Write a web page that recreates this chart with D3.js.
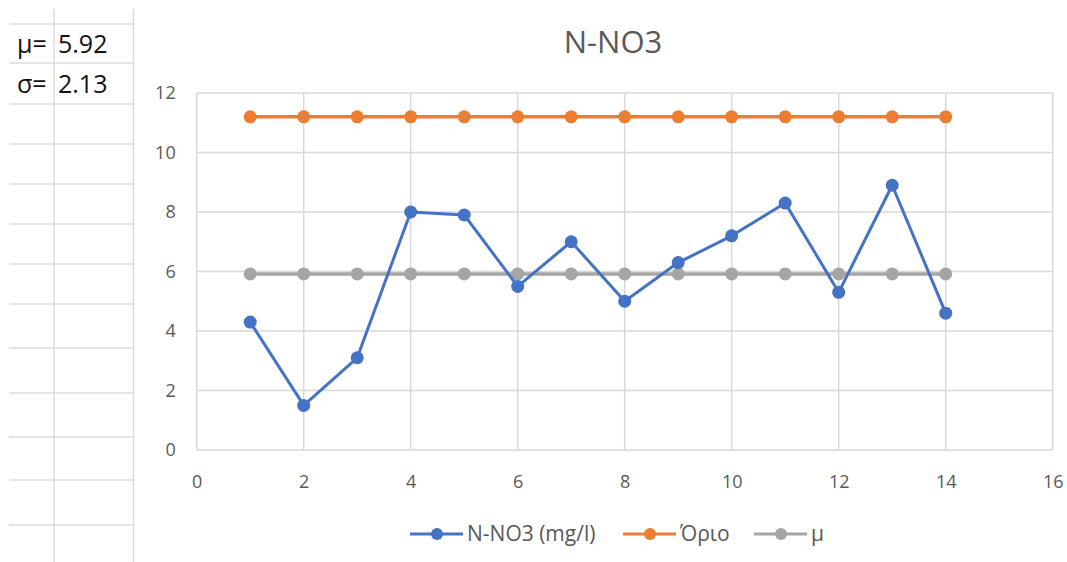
<!DOCTYPE html>
<html>
<head>
<meta charset="utf-8">
<script src="https://cdn.jsdelivr.net/npm/d3@7"></script>
<style>
  html, body { margin: 0; padding: 0; background: #fff; }
  svg { display: block; font-family: "Open Sans", "Noto Sans", sans-serif; }
</style>
</head>
<body>
<svg id="chart" width="1067" height="562"></svg>
<script>
// Sample numbers (x axis) and measured nitrate-nitrogen concentrations
const samples = [1, 2, 3, 4, 5, 6, 7, 8, 9, 10, 11, 12, 13, 14];
const nno3 = [4.3, 1.5, 3.1, 8.0, 7.9, 5.5, 7.0, 5.0, 6.3, 7.2, 8.3, 5.3, 8.9, 4.6];
// Regulatory limit and series mean, repeated for every sample
const limit = [11.2, 11.2, 11.2, 11.2, 11.2, 11.2, 11.2, 11.2, 11.2, 11.2, 11.2, 11.2, 11.2, 11.2];
const mean = [5.92, 5.92, 5.92, 5.92, 5.92, 5.92, 5.92, 5.92, 5.92, 5.92, 5.92, 5.92, 5.92, 5.92];
// Summary statistics shown in the worksheet cells
const statLabels = ["μ=", "σ="];
const statValues = ["5.92", "2.13"];
// Axis ticks
const xTicks = [0, 2, 4, 6, 8, 10, 12, 14, 16];
const yTicks = [0, 2, 4, 6, 8, 10, 12];
const seriesNames = ["N-NO3 (mg/l)", "Όριο", "μ"];
const seriesColors = ["#4472C4", "#ED7D31", "#A5A5A5"];

const svg = d3.select("#chart");

// ---- worksheet cells to the left of the chart ----
const sheet = svg.append("g");
const rowLines = [24, 63, 104, 144, 184, 224, 264, 304, 348, 393, 437, 480, 525];
const cellBaselines = [53, 93];
const sheetGrid = "#DCDCDC";
sheet.selectAll("line.row").data(rowLines).join("line")
  .attr("x1", 9).attr("x2", 133).attr("y1", d => d).attr("y2", d => d)
  .attr("stroke", sheetGrid).attr("stroke-width", 1.5);
[54, 133.5].forEach(xp => sheet.append("line")
  .attr("x1", xp).attr("x2", xp).attr("y1", 9).attr("y2", 562)
  .attr("stroke", sheetGrid).attr("stroke-width", 1.5));
sheet.selectAll("text.lab").data(statLabels).join("text")
  .attr("x", 17).attr("y", (d, i) => cellBaselines[i])
  .attr("font-size", 25).attr("fill", "#111").text(d => d);
sheet.selectAll("text.val").data(statValues).join("text")
  .attr("x", 58).attr("y", (d, i) => cellBaselines[i])
  .attr("font-size", 25).attr("fill", "#111").text(d => d);

// ---- chart ----
const plot = { left: 196.7, right: 1052.7, top: 93, bottom: 450 };
const x = d3.scaleLinear().domain([0, 16]).range([plot.left, plot.right]);
const y = d3.scaleLinear().domain([0, 12]).range([plot.bottom, plot.top]);
const textGray = "#595959";
const gridGray = "#D9D9D9";

// title
svg.append("text").attr("x", 613).attr("y", 53).attr("text-anchor", "middle")
  .attr("font-size", 31).attr("fill", textGray).text("N-NO3");

// gridlines
const g = svg.append("g");
g.selectAll("line.h").data(yTicks).join("line")
  .attr("x1", plot.left).attr("x2", plot.right)
  .attr("y1", d => y(d)).attr("y2", d => y(d))
  .attr("stroke", gridGray).attr("stroke-width", 1.5);
g.selectAll("line.v").data(xTicks).join("line")
  .attr("y1", plot.top).attr("y2", plot.bottom)
  .attr("x1", d => x(d)).attr("x2", d => x(d))
  .attr("stroke", gridGray).attr("stroke-width", 1.5);

// axes (labels only; lines are drawn by the grid)
const xAxis = svg.append("g").attr("transform", `translate(0,${plot.bottom})`)
  .call(d3.axisBottom(x).tickValues(xTicks).tickSize(0).tickPadding(22));
const yAxis = svg.append("g").attr("transform", `translate(${plot.left},0)`)
  .call(d3.axisLeft(y).tickValues(yTicks).tickSize(0).tickPadding(21));
[xAxis, yAxis].forEach(a => {
  a.select(".domain").remove();
  a.selectAll("text").attr("font-size", 18).attr("fill", textGray)
    .attr("font-family", "'Open Sans', 'Noto Sans', sans-serif");
});
xAxis.selectAll("text").attr("dy", "0.9em");

// series
const series = [nno3, limit, mean];
const line = d3.line().x((d, i) => x(samples[i])).y(d => y(d));
const drawOrder = [1, 2, 0];
drawOrder.forEach(si => {
  const s = series[si];
  const grp = svg.append("g");
  grp.append("path").datum(s).attr("d", line)
    .attr("fill", "none").attr("stroke", seriesColors[si])
    .attr("stroke-width", si === 0 ? 3 : 3.5).attr("stroke-linejoin", "round");
  grp.selectAll("circle").data(s).join("circle")
    .attr("cx", (d, i) => x(samples[i])).attr("cy", d => y(d))
    .attr("r", 6.5).attr("fill", seriesColors[si]);
});

// legend
const legendX = [410, 623, 754];
const leg = svg.append("g");
seriesNames.forEach((name, i) => {
  const lx = legendX[i], ly = 534;
  leg.append("line").attr("x1", lx).attr("x2", lx + 53).attr("y1", ly).attr("y2", ly)
    .attr("stroke", seriesColors[i]).attr("stroke-width", 3);
  leg.append("circle").attr("cx", lx + 27).attr("cy", ly).attr("r", 6).attr("fill", seriesColors[i]);
  leg.append("text").attr("x", lx + 57).attr("y", ly).attr("dy", "0.35em")
    .attr("font-size", 21).attr("fill", textGray).text(name);
});
</script>
</body>
</html>
